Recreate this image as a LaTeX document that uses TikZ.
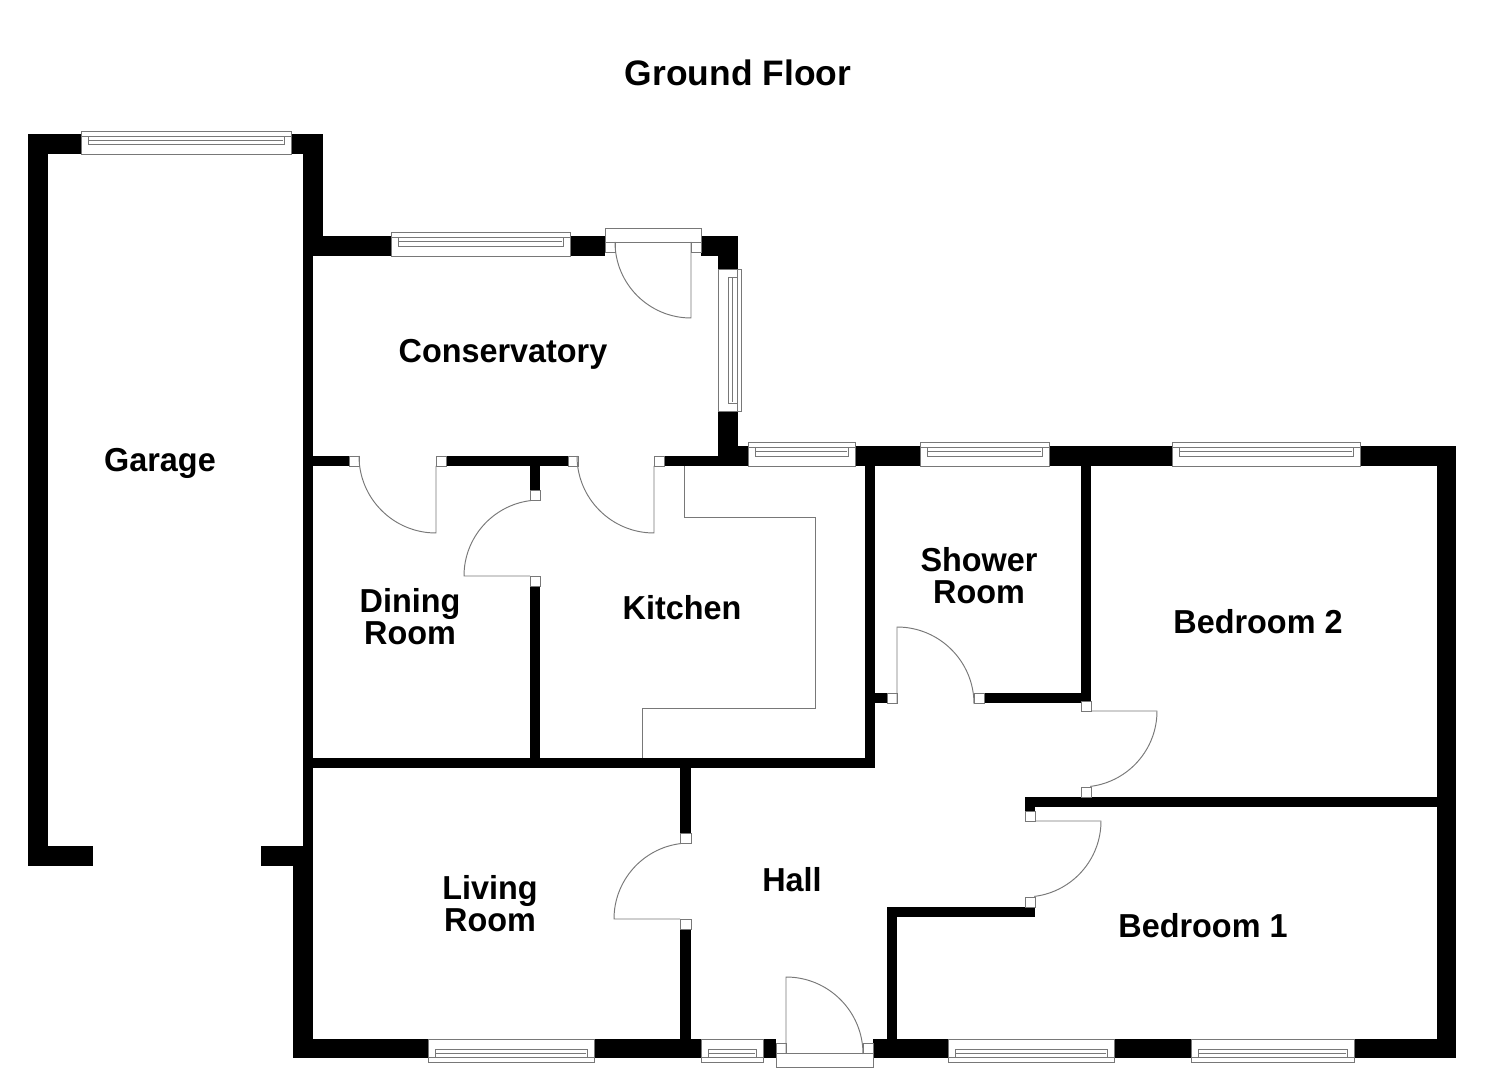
\documentclass[tikz,border=0pt]{standalone}
\usepackage{fontspec}
\setmainfont{Liberation Sans}
\definecolor{linegrey}{RGB}{120,120,120}
\tikzset{
  thinline/.style={draw=linegrey,line width=0.48pt},
  jambbox/.style={fill=white,draw=linegrey,line width=0.48pt},
  roomlabel/.style={font=\bfseries\fontsize{16.6}{16}\selectfont,align=center,text=black,inner sep=0pt,xscale=0.975,transform shape},
}
% wall rectangle x1 y1 x2 y2
\newcommand{\wallbox}[4]{\fill[black] (#1,#2) rectangle (#3,#4);}
\newcommand{\jambat}[4]{\draw[jambbox] (#1,#2) rectangle (#3,#4);}
% window, horizontal: x1 x2 outertop bottom l1 l2 l3 full-width line
\newcommand{\winh}[8]{%
  \draw[jambbox] (#1,#3) rectangle (#2,#4);
  \draw[thinline] (#1,#8) -- (#2,#8);
  \draw[thinline] (#1+7,#5) rectangle (#2-7,#7);
  \draw[thinline] (#1+8,#6) -- (#2-8,#6);
}
\begin{document}
\begin{tikzpicture}[x=0.5pt,y=-0.5pt]
\useasboundingbox (0,0) rectangle (1485,1080);
% ---------- walls
\wallbox{28}{134}{81}{154}
\wallbox{28}{134}{48}{866}
\wallbox{28}{846}{93}{866}
\wallbox{291}{134}{323}{154}
\wallbox{303}{134}{323}{256}
\wallbox{303}{256}{313}{846}
\wallbox{261}{846}{303}{866}
\wallbox{293}{846}{313}{1058}
\wallbox{313}{236}{391}{256}
\wallbox{570}{236}{605}{256}
\wallbox{701}{236}{738}{256}
\wallbox{718}{236}{738}{269}
\wallbox{718}{411}{738}{466}
\wallbox{738}{446}{748}{466}
\wallbox{664}{456}{738}{466}
\wallbox{855}{446}{920}{466}
\wallbox{1049}{446}{1172}{466}
\wallbox{1360}{446}{1456}{466}
\wallbox{1437}{446}{1456}{1058}
\wallbox{293}{1039}{428}{1058}
\wallbox{594}{1039}{701}{1058}
\wallbox{763}{1039}{776}{1058}
\wallbox{873}{1039}{948}{1058}
\wallbox{1114}{1039}{1191}{1058}
\wallbox{1354}{1039}{1456}{1058}
% inner walls
\wallbox{313}{456}{349}{466}
\wallbox{446}{456}{568}{466}
\wallbox{530}{466}{540}{490}
\wallbox{530}{586}{540}{768}
\wallbox{313}{758}{875}{768}
\wallbox{865}{466}{875}{768}
\wallbox{875}{693}{887}{703}
\wallbox{984}{693}{1091}{703}
\wallbox{1081}{466}{1091}{701}
\wallbox{1025}{797}{1437}{807}
\wallbox{1025}{807}{1035}{811}
\wallbox{887}{907}{1035}{917}
\wallbox{887}{907}{897}{1039}
\wallbox{680}{768}{691}{833}
\wallbox{680}{929}{691}{1039}
% ---------- windows
\winh{81}{291}{131}{154}{136}{140}{144}{136}
\winh{391}{570}{232}{256}{237}{241}{246}{237}
\winh{748}{855}{442}{466}{447}{451}{456}{447}
\winh{920}{1049}{442}{466}{447}{451}{456}{447}
\winh{1172}{1360}{442}{466}{447}{451}{456}{447}
\winh{428}{594}{1039}{1062}{1049}{1053}{1057}{1057}
\winh{701}{763}{1039}{1062}{1049}{1053}{1057}{1057}
\winh{948}{1114}{1039}{1062}{1049}{1053}{1057}{1057}
\winh{1191}{1354}{1039}{1062}{1049}{1053}{1057}{1057}
% vertical window in the conservatory
\draw[jambbox] (718,269) rectangle (741,411);
\draw[thinline] (737,269) -- (737,411);
\draw[thinline] (728,277) rectangle (737,403);
\draw[thinline] (732,278) -- (732,402);
% ---------- door frames outside
\draw[jambbox] (605,228) rectangle (701,242);
\draw[jambbox] (776,1053) rectangle (873,1067);
% ---------- jambs
\jambat{605}{242}{615}{252}
\jambat{691}{242}{701}{252}
\jambat{349}{456}{359}{466}
\jambat{436}{456}{446}{466}
\jambat{568}{456}{578}{466}
\jambat{654}{456}{664}{466}
\jambat{530}{490}{540}{500}
\jambat{530}{576}{540}{586}
\jambat{887}{693}{897}{703}
\jambat{974}{693}{984}{703}
\jambat{1081}{701}{1091}{711}
\jambat{1081}{787}{1091}{797}
\jambat{1025}{811}{1035}{821}
\jambat{1025}{897}{1035}{907}
\jambat{680}{833}{691}{843}
\jambat{680}{919}{691}{929}
\jambat{776}{1043}{786}{1053}
\jambat{863}{1043}{873}{1053}
% ---------- door leaves and swings
\begin{scope}[thinline]
\draw (691,242) -- (691,318) arc[start angle=-90,end angle=-180,x radius=76,y radius=-76];
\draw (436,466) -- (436,533) arc[start angle=-90,end angle=-180,x radius=77,y radius=-77];
\draw (654,466) -- (654,533) arc[start angle=-90,end angle=-180,x radius=77,y radius=-77];
\draw (530,576) -- (464,576) arc[start angle=180,end angle=97,x radius=76,y radius=-76];
\draw (786,1053) -- (786,977) arc[start angle=90,end angle=0,x radius=77,y radius=-77];
\draw (897,703) -- (897,627) arc[start angle=90,end angle=0,x radius=77,y radius=-77];
\draw (1091,711) -- (1157,711) arc[start angle=0,end angle=-83,x radius=76,y radius=-76];
\draw (1035,821) -- (1101,821) arc[start angle=0,end angle=-83,x radius=76,y radius=-76];
\draw (680,919) -- (614,919) arc[start angle=180,end angle=97,x radius=76,y radius=-76];
% kitchen worktop
\draw (684,466) -- (684,517) -- (815,517) -- (815,708) -- (642,708) -- (642,758);
\end{scope}
% ---------- labels
\node[roomlabel,xscale=1.026,font=\bfseries\fontsize{17.7}{18}\selectfont] (title) at (738,73) {Ground Floor};
\node[roomlabel] (garage) at (160,463) {Garage};
\node[roomlabel] (conservatory) at (503,354) {Conservatory};
\node[roomlabel] (dining) at (410,617) {Dining\\Room};
\node[roomlabel] (kitchen) at (682,608) {Kitchen};
\node[roomlabel] (shower) at (979,576) {Shower\\Room};
\node[roomlabel] (bedtwo) at (1258,622) {Bedroom 2};
\node[roomlabel] (bedone) at (1203,926) {Bedroom 1};
\node[roomlabel] (living) at (490,904) {Living\\Room};
\node[roomlabel] (hall) at (792,880) {Hall};
\end{tikzpicture}
\end{document}
